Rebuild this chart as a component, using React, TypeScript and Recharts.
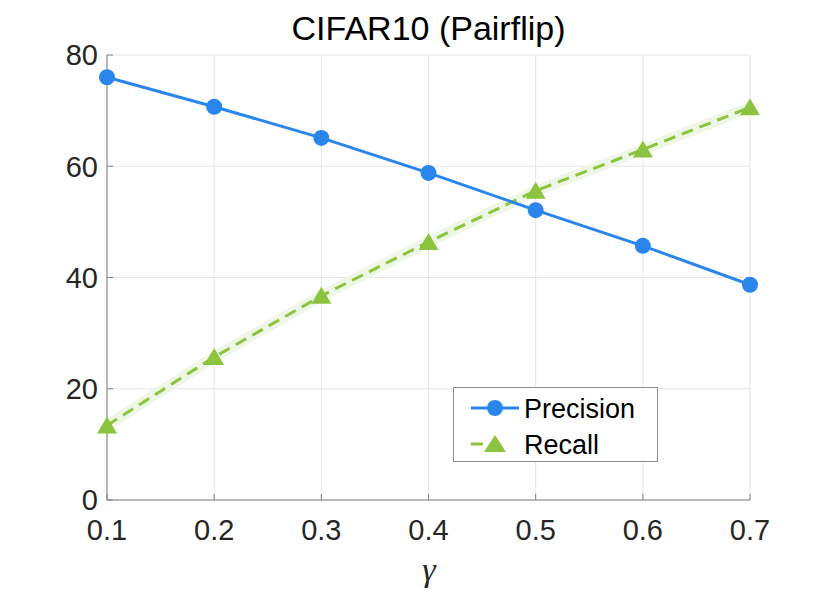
import { CartesianGrid, Legend, Line, LineChart, XAxis, YAxis } from "recharts";

const gammas = [0.1, 0.2, 0.3, 0.4, 0.5, 0.6, 0.7];
const precision = [76.0, 70.7, 65.1, 58.8, 52.1, 45.7, 38.7];
const recall = [13.4, 25.7, 36.7, 46.4, 55.6, 63.0, 70.6];
const yTicks = [0, 20, 40, 60, 80];

const data = gammas.map((g, i) => ({
  gamma: g,
  precision: precision[i],
  recall: recall[i],
}));

const BLUE = "#2a86ec";
const GREEN = "#8cc43f";
const BAND = "#eef6e6";
const FONT = "'Liberation Sans', Arial, sans-serif";

const Triangle = (props: any) => {
  const { cx, cy, key } = props;
  if (cx == null || cy == null) return null;
  return (
    <path
      key={key}
      d={`M${cx},${cy - 9} L${cx + 10},${cy + 8} L${cx - 10},${cy + 8} Z`}
      fill={GREEN}
    />
  );
};

const LegendBox = () => (
  <div
    style={{
      width: 203,
      height: 73,
      border: "1px solid #8c8c8c",
      background: "#fff",
      fontFamily: FONT,
    }}
  >
    <svg width={203} height={73}>
      <line x1={17} x2={65} y1={20} y2={20} stroke={BLUE} strokeWidth={3} />
      <circle cx={41} cy={20} r={8} fill={BLUE} />
      <text x={70} y={29.5} fontSize={27} fill="#000">
        Precision
      </text>
      <line x1={17} x2={29} y1={56} y2={56} stroke={GREEN} strokeWidth={3} />
      <path d="M41,47 L52,64 L30,64 Z" fill={GREEN} />
      <text x={70} y={65.5} fontSize={27} fill="#000">
        Recall
      </text>
    </svg>
  </div>
);

export default function App() {
  return (
    <div style={{ position: "absolute", left: 0, top: 0, width: 830, height: 594, background: "#fff" }}>
      <LineChart
        width={830}
        height={594}
        data={data}
        margin={{ top: 55, right: 80, bottom: 0, left: 0 }}
      >
        <CartesianGrid stroke="#e6e6e6" strokeWidth={1} />
        <XAxis
          dataKey="gamma"
          type="number"
          domain={[0.1, 0.7]}
          ticks={gammas}
          interval={0}
          tickFormatter={(v: number) => v.toFixed(1)}
          height={94}
          stroke="#7f7f7f"
          tickSize={-6}
          tickMargin={25}
          tick={{ fill: "#262626", fontSize: 29, fontFamily: FONT }}
        />
        <YAxis
          type="number"
          domain={[0, 80]}
          ticks={yTicks}
          interval={0}
          width={107}
          stroke="#7f7f7f"
          tickSize={-6}
          tickMargin={15}
          tick={{ fill: "#262626", fontSize: 29, fontFamily: FONT }}
        />
        <Legend
          layout="vertical"
          align="center"
          verticalAlign="middle"
          content={() => <LegendBox />}
          wrapperStyle={{ left: 453, top: 387, width: 205, height: 75 }}
        />
        <Line
          dataKey="recall"
          stroke={BAND}
          strokeWidth={11}
          dot={false}
          activeDot={false}
          legendType="none"
          isAnimationActive={false}
        />
        <Line
          dataKey="recall"
          name="Recall"
          stroke={GREEN}
          strokeWidth={3}
          strokeDasharray="12 7"
          dot={Triangle}
          activeDot={false}
          isAnimationActive={false}
        />
        <Line
          dataKey="precision"
          name="Precision"
          stroke={BLUE}
          strokeWidth={3}
          dot={{ r: 8, fill: BLUE, stroke: "none" }}
          activeDot={false}
          isAnimationActive={false}
        />
      </LineChart>
      <svg
        width={830}
        height={594}
        style={{ position: "absolute", left: 0, top: 0, pointerEvents: "none" }}
      >
        <text x={428.5} y={40} textAnchor="middle" fontSize={34} fontFamily={FONT} fill="#000">
          CIFAR10 (Pairflip)
        </text>
        <text
          x={429}
          y={581}
          textAnchor="middle"
          fontSize={34}
          fontStyle="italic"
          fontFamily="'Liberation Serif', 'Times New Roman', serif"
          fill="#262626"
        >
          γ
        </text>
      </svg>
    </div>
  );
}
